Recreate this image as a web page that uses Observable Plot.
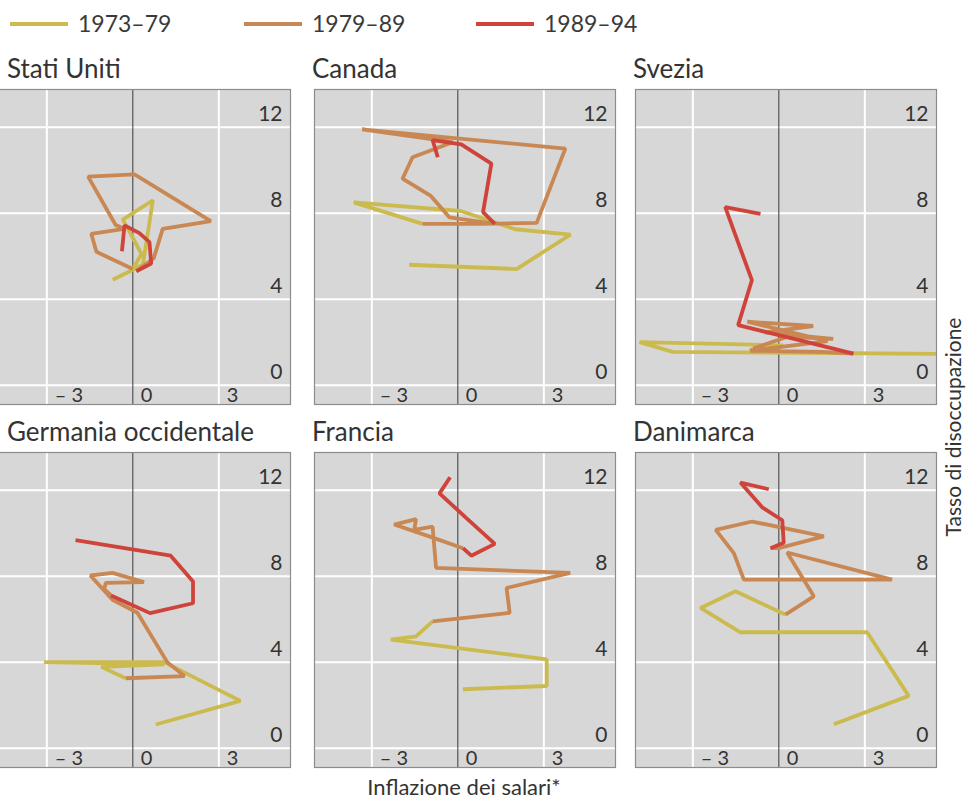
<!DOCTYPE html>
<html><head><meta charset="utf-8">
<script src="https://cdn.jsdelivr.net/npm/d3@7"></script>
<script src="https://cdn.jsdelivr.net/npm/@observablehq/plot@0.6"></script>
<style>
body{margin:0;background:#fff;font-family:Lato,"Open Sans",sans-serif;color:#333}
#root{position:relative;width:966px;height:800px;overflow:hidden;background:#fff}
.abs{position:absolute;white-space:nowrap;line-height:1}
.panel{position:absolute}
</style></head><body><div id="root"></div>
<script>
// ---- data ----
const periods = ["1973–79", "1979–89", "1989–94"];
const periodColors = ["#cbbb4e", "#c98853", "#d0433a"];
const countries = ["Stati Uniti", "Canada", "Svezia", "Germania occidentale", "Francia", "Danimarca"];
const xTicks = [-3, 0, 3];
const xTickLabels = ["– 3", "0", "3"];
const yTicks = [0, 4, 8, 12];
const xTitle = "Inflazione dei salari*";
const yTitle = "Tasso di disoccupazione";

// [inflazione dei salari, tasso di disoccupazione]
const statiUniti7379 = [[-0.7,4.9],[0.35,5.6],[0.7,8.6],[-0.35,7.7],[-0.1,7.1],[0.3,6.1],[0.0,5.4]];
const statiUniti7989 = [[0.0,5.4],[-1.27,6.2],[-1.45,7.04],[-0.3,7.27],[-0.6,7.45],[-1.56,9.7],[0.06,9.8],[2.72,7.63],[1.04,7.27],[0.73,5.9],[0.12,5.3]];
const statiUniti8994 = [[0.12,5.3],[0.64,5.65],[0.58,6.65],[0.23,7.07],[-0.29,7.43],[-0.38,6.23]];

const canada7379 = [[-1.7,5.6],[2.05,5.4],[3.93,7.0],[2.0,7.25],[0.1,8.1],[-3.63,8.5],[-1.23,7.5]];
const canada7989 = [[-1.23,7.5],[0.8,7.5],[2.75,7.55],[3.75,11.0],[-3.34,11.9],[-0.18,11.3],[-1.58,10.6],[-1.93,9.6],[-0.94,8.8],[-0.29,7.8],[1.29,7.5]];
const canada8994 = [[1.29,7.5],[0.88,8.05],[1.17,10.3],[0.12,11.2],[-0.88,11.4],[-0.7,10.6]];

const svezia7379 = [[0.15,1.85],[-4.86,2.0],[-3.7,1.55],[5.9,1.45],[1.5,1.5],[-1.0,1.6],[-0.9,1.7]];
const svezia7989 = [[-0.9,1.7],[0.3,2.25],[1.9,2.15],[-0.5,2.45],[1.2,2.75],[-1.1,2.95],[0.0,2.6],[1.7,2.05],[-1.0,1.6],[1.5,1.55],[2.6,1.47]];
const svezia8994 = [[2.6,1.47],[0.6,2.13],[-1.42,2.79],[-0.94,4.88],[-1.87,8.28],[-0.64,7.97]];

const germania7379 = [[0.8,1.1],[3.75,2.2],[1.09,4.0],[-3.1,4.0],[1.1,3.9],[-1.1,3.78],[-0.25,3.25]];
const germania7989 = [[-0.25,3.25],[1.8,3.35],[1.2,4.0],[0.16,6.3],[-0.71,6.9],[-1.48,8.03],[-0.71,8.15],[0.39,7.72],[-0.94,7.69],[-1.0,7.4],[-0.76,7.1]];
const germania8994 = [[-0.76,7.1],[0.6,6.28],[2.1,6.74],[2.1,7.75],[1.32,8.95],[-2.0,9.68]];

const francia7379 = [[0.18,2.74],[3.1,2.89],[3.1,4.13],[0.7,4.54],[-2.34,5.05],[-1.46,5.2],[-0.88,5.9]];
const francia7989 = [[-0.88,5.9],[1.81,6.29],[1.7,7.45],[3.92,8.15],[-0.76,8.38],[-0.88,10.3],[-1.52,10.15],[-1.46,10.65],[-2.22,10.4],[-1.0,9.85],[0.18,9.3]];
const francia8994 = [[0.18,9.3],[0.47,8.95],[1.29,9.5],[0.29,10.71],[-0.64,11.85],[-0.27,12.6]];

const danimarca7379 = [[1.92,1.11],[4.53,2.43],[3.08,5.39],[-1.34,5.39],[-2.73,6.52],[-1.51,7.3],[0.23,6.21]];
const danimarca7989 = [[0.23,6.21],[1.22,7.06],[0.29,9.1],[3.95,7.84],[-1.22,7.84],[-1.57,9.07],[-2.2,10.15],[-0.93,10.54],[1.57,9.85],[0.0,9.3],[-0.29,9.3]];
const danimarca8994 = [[-0.29,9.3],[0.17,9.55],[0.12,10.6],[-0.58,11.2],[-1.34,12.35],[-0.35,12.04]];

const seriesByCountry = [
  [statiUniti7379, statiUniti7989, statiUniti8994],
  [canada7379, canada7989, canada8994],
  [svezia7379, svezia7989, svezia8994],
  [germania7379, germania7989, germania8994],
  [francia7379, francia7989, francia8994],
  [danimarca7379, danimarca7989, danimarca8994]
];

// ---- layout ----
const root = document.getElementById("root");
const panelW = 301, panelH = 315;
const colLeft = [-11, 314, 635];
const rowTop = [89, 452];
const titleLeft = [7, 312, 633];

function add(html, css, cls = "abs") {
  const d = document.createElement("div");
  d.className = cls;
  d.innerHTML = html;
  Object.assign(d.style, css);
  root.appendChild(d);
  return d;
}

// legend
const legendLineX = [10, 244, 476];
periods.forEach((p, i) => {
  add("", {left: legendLineX[i] + "px", top: "22px", width: "58px", height: "4px", background: periodColors[i]});
  add(p, {left: (legendLineX[i] + 68) + "px", top: "12px", fontSize: "23px", color: "#3a3a3a"});
});

countries.forEach((name, k) => {
  const col = k % 3, row = Math.floor(k / 3);
  add(name, {left: titleLeft[col] + "px", top: (rowTop[row] - 34) + "px", fontSize: "26px", color: "#333"});
  const rows = [];
  seriesByCountry[k].forEach((s, i) => s.forEach(([x, y]) => rows.push({x, y, period: periods[i]})));
  const chart = Plot.plot({
    width: panelW, height: panelH,
    margin: 0,
    style: {fontFamily: "Lato, 'Open Sans', sans-serif", background: "transparent", overflow: "visible"},
    x: {domain: [-5, 5.5], axis: null},
    y: {domain: [-0.9, 13.75], axis: null},
    color: {domain: periods, range: periodColors},
    marks: [
      Plot.frame({fill: "#d7d7d7"}),
      Plot.ruleX(xTicks.filter(t => t !== 0), {stroke: "#fff", strokeWidth: 2}),
      Plot.ruleY(yTicks, {stroke: "#fff", strokeWidth: 2}),
      Plot.ruleX([0], {stroke: "#3a3a3a", strokeWidth: 1}),
      Plot.line(rows, {x: "x", y: "y", z: "period", stroke: "period", strokeWidth: 3.8,
        strokeLinejoin: "miter", strokeLinecap: "butt", clip: true}),
      Plot.text(xTicks, {x: d => d, text: (d, i) => xTickLabels[i], frameAnchor: "bottom",
        textAnchor: "start", lineAnchor: "bottom", dx: 8, dy: -3, fontSize: 20, fill: "#333"}),
      Plot.text(yTicks, {y: d => d, text: d => String(d), frameAnchor: "right",
        textAnchor: "end", lineAnchor: "bottom", dx: -8, dy: -6, fontSize: 21, fill: "#333"}),
      Plot.frame({stroke: "#8c8c8c", strokeWidth: 1.2})
    ]
  });
  const wrap = document.createElement("div");
  wrap.className = "panel";
  wrap.style.left = colLeft[col] + "px";
  wrap.style.top = rowTop[row] + "px";
  wrap.appendChild(chart);
  root.appendChild(wrap);
});

// axis titles
add(xTitle, {left: "464px", top: "776px", fontSize: "22px", transform: "translateX(-50%)", color: "#333"});
add(yTitle, {left: "952px", top: "427px", fontSize: "21px", transform: "translate(-50%,-50%) rotate(-90deg)", color: "#333"});
</script>
</body></html>
